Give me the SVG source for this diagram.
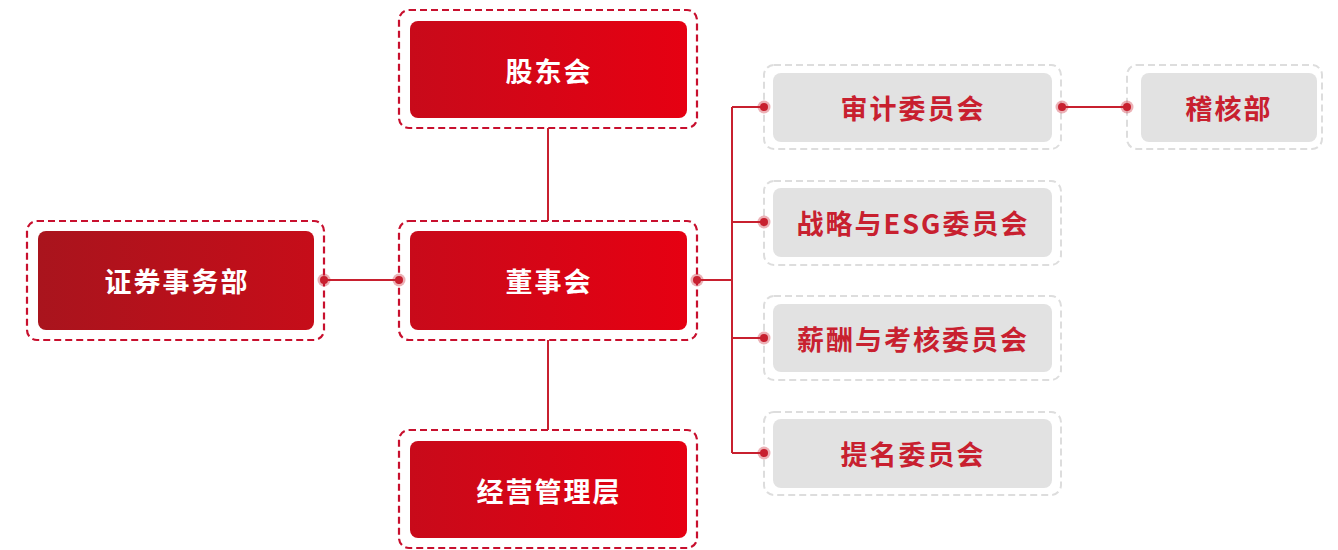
<svg xmlns="http://www.w3.org/2000/svg" width="1338" height="550" viewBox="0 0 1338 550">
<defs>
<linearGradient id="gRed" x1="0" y1="0" x2="1" y2="0"><stop offset="0" stop-color="#c80a1a"/><stop offset="1" stop-color="#e60012"/></linearGradient>
<linearGradient id="gDark" x1="0" y1="0" x2="1" y2="0"><stop offset="0" stop-color="#a9141d"/><stop offset="1" stop-color="#c60d19"/></linearGradient>
<style>
.ro{fill:none;stroke:#c8102e;stroke-width:2.2;stroke-dasharray:7 4}
.go{fill:none;stroke:#dddddd;stroke-width:2;stroke-dasharray:7 4}
.gi{fill:#e2e2e2}
.wt{fill:#fff;font-family:"Noto Sans CJK SC","Noto Sans",sans-serif;font-weight:bold;font-size:27px;letter-spacing:2px;text-anchor:middle;dominant-baseline:central}
.rt{fill:#c8202f;font-family:"Noto Sans CJK SC","Noto Sans",sans-serif;font-weight:bold;font-size:27px;letter-spacing:2px;text-anchor:middle;dominant-baseline:central}
.ln{fill:none;stroke:#c8202f;stroke-width:2}
.dh{fill:#c8202f;fill-opacity:0.35}
.dt{fill:#c8202f}
</style>
</defs>
<g id="gudonghui">
<rect class="ro" x="399" y="10" width="298" height="118" rx="10"/>
<rect fill="url(#gRed)" x="410" y="21" width="277" height="97" rx="8"/>
<text class="wt" x="549" y="70">股东会</text>
</g>
<g id="dongshihui">
<rect class="ro" x="399" y="221" width="298" height="119" rx="10"/>
<rect fill="url(#gRed)" x="410" y="231" width="277" height="99" rx="8"/>
<text class="wt" x="549" y="280">董事会</text>
</g>
<g id="jingying">
<rect class="ro" x="399" y="430" width="298" height="118" rx="10"/>
<rect fill="url(#gRed)" x="410" y="441" width="277" height="97" rx="8"/>
<text class="wt" x="549" y="490">经营管理层</text>
</g>
<g id="zhengquan">
<rect class="ro" x="27" y="221" width="297" height="119" rx="10"/>
<rect fill="url(#gDark)" x="38" y="231" width="276" height="99" rx="8"/>
<text class="wt" x="177" y="280">证券事务部</text>
</g>
<g id="shenji">
<rect class="go" x="764" y="65" width="297" height="84" rx="10"/>
<rect class="gi" x="773" y="73" width="279" height="69" rx="8"/>
<text class="rt" x="913" y="107">审计委员会</text>
</g>
<g id="zhanlue">
<rect class="go" x="764" y="181" width="297" height="84" rx="10"/>
<rect class="gi" x="773" y="188" width="279" height="69" rx="8"/>
<text class="rt" x="913" y="222">战略与ESG委员会</text>
</g>
<g id="xinchou">
<rect class="go" x="764" y="296" width="297" height="84" rx="10"/>
<rect class="gi" x="773" y="304" width="279" height="68" rx="8"/>
<text class="rt" x="913" y="338">薪酬与考核委员会</text>
</g>
<g id="timing">
<rect class="go" x="764" y="412" width="297" height="83" rx="10"/>
<rect class="gi" x="773" y="419" width="279" height="69" rx="8"/>
<text class="rt" x="913" y="453">提名委员会</text>
</g>
<g id="jihebu">
<rect class="go" x="1127" y="65" width="195" height="84" rx="10"/>
<rect class="gi" x="1141" y="73" width="176" height="69" rx="8"/>
<text class="rt" x="1229" y="107">稽核部</text>
</g>
<g id="connectors">
<path class="ln" d="M548 128V221M548 340V430M324 280H399M697 280H732M732 107V453M732 107H764M732 222H764M732 338H764M732 453H764M1062 107H1127"/>
<g>
<circle class="dh" cx="324" cy="280" r="6.5"/><circle class="dt" cx="324" cy="280" r="4"/>
<circle class="dh" cx="399" cy="280" r="6.5"/><circle class="dt" cx="399" cy="280" r="4"/>
<circle class="dh" cx="697" cy="280" r="6.5"/><circle class="dt" cx="697" cy="280" r="4"/>
<circle class="dh" cx="764" cy="107" r="6.5"/><circle class="dt" cx="764" cy="107" r="4"/>
<circle class="dh" cx="764" cy="222" r="6.5"/><circle class="dt" cx="764" cy="222" r="4"/>
<circle class="dh" cx="764" cy="338" r="6.5"/><circle class="dt" cx="764" cy="338" r="4"/>
<circle class="dh" cx="764" cy="453" r="6.5"/><circle class="dt" cx="764" cy="453" r="4"/>
<circle class="dh" cx="1062" cy="107" r="6.5"/><circle class="dt" cx="1062" cy="107" r="4"/>
<circle class="dh" cx="1127" cy="107" r="6.5"/><circle class="dt" cx="1127" cy="107" r="4"/>
</g>
</g>
</svg>
